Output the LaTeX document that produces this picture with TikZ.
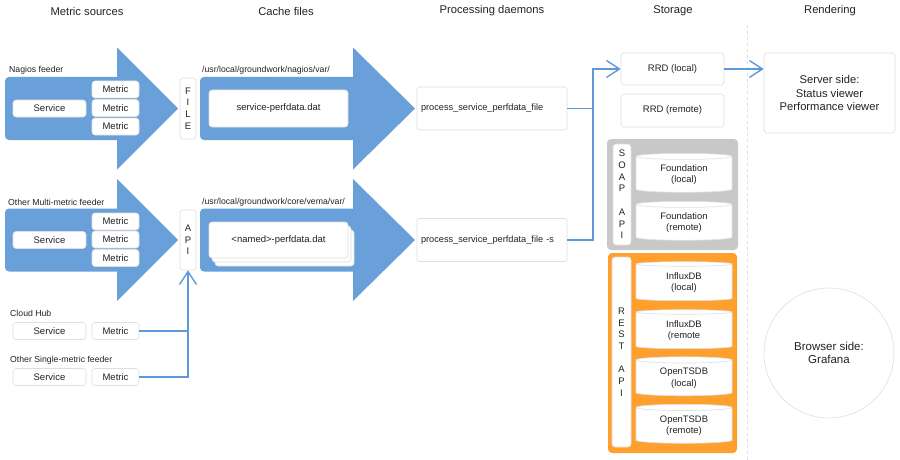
\documentclass[tikz,border=0pt]{standalone}
\usepackage{fontspec}
\setmainfont{Liberation Sans}
\usetikzlibrary{arrows.meta,shapes.geometric}

\definecolor{feedblue}{RGB}{106,160,218}
\definecolor{linkblue}{RGB}{94,154,216}
\definecolor{soapgray}{RGB}{200,200,200}
\definecolor{restorange}{RGB}{255,159,46}
\definecolor{edgegray}{RGB}{222,222,222}
\definecolor{inkgray}{RGB}{34,34,34}

\tikzset{
  heading/.style={font=\fontsize{11.2}{13}\selectfont, text=inkgray},
  feedname/.style={anchor=west, inner sep=0pt, font=\fontsize{8.7}{10}\selectfont, text=inkgray},
  box/.style={draw=edgegray, fill=white, rounded corners=3pt, line width=0.6pt, inner sep=0pt,
    font=\fontsize{9.5}{11.5}\selectfont, text=inkgray},
  svcbox/.style={box, minimum width=73pt, minimum height=17pt},
  metbox/.style={box, minimum width=47pt, minimum height=17pt},
  strip/.style={box, align=center, font=\fontsize{9.5}{11.7}\selectfont},
  procbox/.style={box, minimum width=150pt, minimum height=43pt, text width=142pt, align=left,
    font=\fontsize{9.2}{11}\selectfont},
  panel/.style={rounded corners=4pt, inner sep=0pt},
  dbcyl/.style={shape=cylinder, shape border rotate=90, aspect=0.13, draw=edgegray, fill=white,
    line width=0.6pt, minimum width=96pt, minimum height=39pt, inner sep=0pt, align=center,
    font=\fontsize{9.4}{11.5}\selectfont, text=inkgray},
  link/.style={draw=linkblue, line width=1.4pt},
  >={Straight Barb[length=13pt,width=17pt]}
}

\begin{document}
\begin{tikzpicture}[x=1pt,y=-1pt]
    \useasboundingbox (0,0) rectangle (900,460);

    % column headings
    \node[heading] (hsrc) at (87,11) {Metric sources};
    \node[heading] (hcache) at (286,11) {Cache files};
    \node[heading] (hproc) at (492,11) {Processing daemons};
    \node[heading] (hstore) at (673,11) {Storage};
    \node[heading] (hrender) at (830,11) {Rendering};
    \draw[edgegray, dashed, line width=0.6pt] (747,25) -- (747,460);

    % big flow arrows
    \foreach \xa/\xb/\xc/\yc in {5/117/178/108.5,5/117/178/240,200/353/415/108.5,200/353/415/240}
      \fill[feedblue] (\xb,\yc-31.5) -- (\xb,\yc-61) -- (\xc,\yc) -- (\xb,\yc+61) -- (\xb,\yc+31.5)
        {[rounded corners=4pt] -- (\xa,\yc+31.5) -- (\xa,\yc-31.5)} -- cycle;

    % metric sources
    \node[feedname] (nagios) at (9,70) {Nagios feeder};
    \node[svcbox] (svcA) at (49.5,108.5) {Service};
    \foreach \y [count=\i] in {89.5,108,126.5}
      \node[metbox] (metA\i) at (115.5,\y) {Metric};

    \node[feedname] (multi) at (8,202) {Other Multi-metric feeder};
    \node[svcbox] (svcB) at (49.5,240) {Service};
    \foreach \y [count=\i] in {221.5,239.5,258}
      \node[metbox] (metB\i) at (115.5,\y) {Metric};

    \node[feedname] (cloud) at (10,313) {Cloud Hub};
    \node[svcbox] (csvc) at (49.5,331) {Service};
    \node[metbox] (cmet) at (115.5,331) {Metric};

    \node[feedname] (single) at (10,360) {Other Single-metric feeder};
    \node[svcbox] (ssvc) at (49.5,377) {Service};
    \node[metbox] (smet) at (115.5,377) {Metric};

    % interfaces
    \node[strip, minimum width=16pt, minimum height=61pt] (file) at (188,108.5) {F\\I\\L\\E};
    \node[strip, minimum width=16pt, minimum height=60pt] (api) at (188,240) {A\\P\\I};

    % cache files
    \node[feedname] (pathA) at (202,70) {/usr/local/groundwork/nagios/var/};
    \node[box, minimum width=139pt, minimum height=37pt] (perfA) at (278.5,108.5) {service-perfdata.dat};
    \node[feedname] (pathB) at (202,202) {/usr/local/groundwork/core/vema/var/};
    \node[box, minimum width=139pt, minimum height=36pt] (perfB2) at (284.5,248) {};
    \node[box, minimum width=139pt, minimum height=36pt] (perfB1) at (281.5,244) {};
    \node[box, minimum width=139pt, minimum height=36pt] (perfB) at (278.5,240) {<named>-perfdata.dat};

    % processing daemons
    \node[procbox] (procA) at (492,108.5) {process\_service\_perfdata\_file};
    \node[procbox] (procB) at (492,240) {process\_service\_perfdata\_file -s};

    % storage
    \node[box, minimum width=103pt, minimum height=32pt] (rrdl) at (672.5,69) {RRD (local)};
    \node[box, minimum width=103pt, minimum height=33pt] (rrdr) at (672.5,110.5) {RRD (remote)};

    \node[panel, fill=soapgray, minimum width=131pt, minimum height=111pt] (soap) at (672.5,194.5) {};
    \node[strip, minimum width=18pt, minimum height=101pt] (soapapi) at (622,194.5) {S\\O\\A\\P\\[11.7pt]A\\P\\I};
    \node[dbcyl] (fndl) at (684,174.5) {Foundation\\(local)};
    \node[dbcyl] (fndr) at (684,222.5) {Foundation\\(remote)};

    \node[panel, fill=restorange, minimum width=129pt, minimum height=200pt] (rest) at (672.5,353) {};
    \node[strip, minimum width=19pt, minimum height=190pt] (restapi) at (621.5,352) {R\\E\\S\\T\\[11.7pt]A\\P\\I};
    \node[dbcyl] (infl) at (684,282.5) {InfluxDB\\(local)};
    \node[dbcyl] (infr) at (684,330.5) {InfluxDB\\(remote};
    \node[dbcyl] (tsdl) at (684,378) {OpenTSDB\\(local)};
    \node[dbcyl] (tsdr) at (684,425.5) {OpenTSDB\\(remote)};

    % rendering
    \node[box, minimum width=131pt, minimum height=80pt, align=center,
      font=\fontsize{11.2}{13.5}\selectfont] (server) at (829.5,93) {Server side:\\Status viewer\\Performance viewer};
    \node[circle, draw=edgegray, line width=0.6pt, minimum size=130pt, align=center, text=inkgray,
      font=\fontsize{11.5}{13.5}\selectfont] (browser) at (829,353) {Browser side:\\Grafana};

    % connectors
    \coordinate (bend) at (593,108.5);
    \draw[link] (procA.east) -- (bend);
    \draw[link, ->] (procB.east) -| (bend) |- (rrdl.west);
    \draw[link, ->] (rrdl.east) -- (rrdl.east -| server.west);
    \draw[link] (cmet.east) -- (cmet.east -| api.south);
    \draw[link, ->] (smet.east) -| (api.south);
\end{tikzpicture}
\end{document}
